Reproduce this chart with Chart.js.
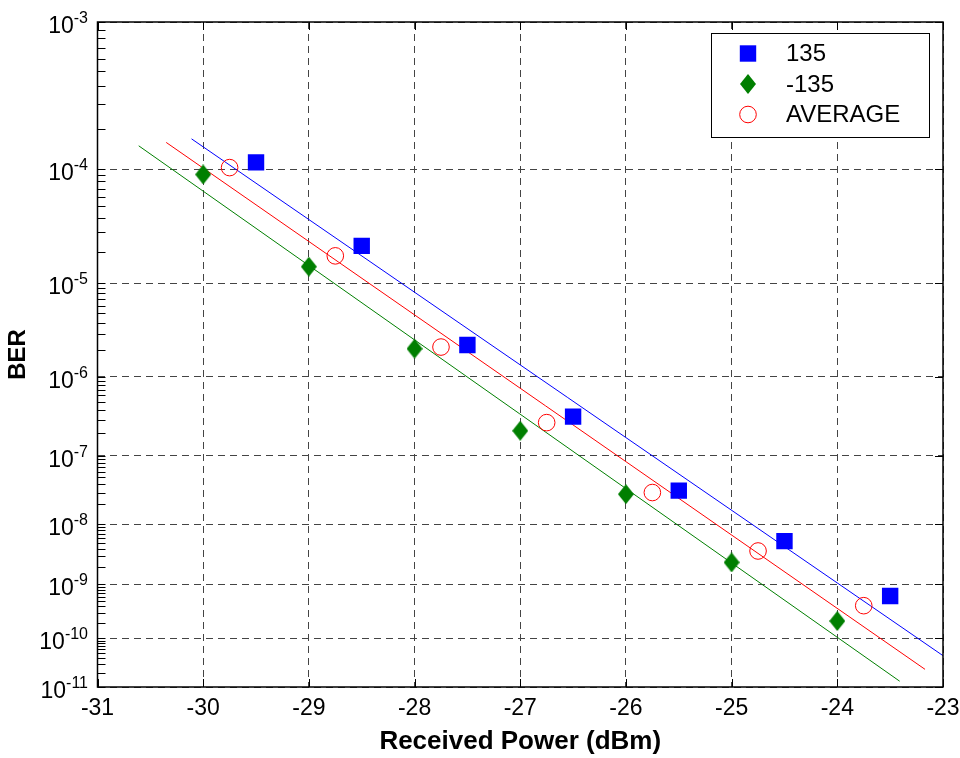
<!DOCTYPE html>
<html>
<head>
<meta charset="utf-8">
<title>BER vs Received Power</title>
<script src="https://cdn.jsdelivr.net/npm/chart.js@4.4.1/dist/chart.umd.min.js"></script>
<style>
  html, body { margin: 0; padding: 0; background: #fff; }
  #wrap { width: 960px; height: 758px; }
</style>
</head>
<body>
<div id="wrap"><canvas id="berChart" width="960" height="758"></canvas></div>
<script>
const power135 = [-29.5, -28.5, -27.5, -26.5, -25.5, -24.5, -23.5];
const ber135 = [1.13e-4, 2.26e-5, 2.3e-6, 3.27e-7, 3.2e-8, 5.35e-9, 6.2e-10];

const powerM135 = [-30, -29, -28, -27, -26, -25, -24];
const berM135 = [9.1e-5, 1.45e-5, 2.09e-6, 2.15e-7, 2.84e-8, 2.38e-9, 2.14e-10];

const powerAvg = [-29.75, -28.75, -27.75, -26.75, -25.75, -24.75, -23.75];
const berAvg = [1.03e-4, 1.83e-5, 2.18e-6, 2.74e-7, 3.0e-8, 3.69e-9, 4.13e-10];

// Fitted lines, start and end points
const fit135X = [-30.11, -23.0];
const fit135Y = [1.70e-4, 4.5e-11];
const fitM135X = [-30.61, -23.41];
const fitM135Y = [1.51e-4, 1.33e-11];
const fitAvgX = [-30.35, -23.17];
const fitAvgY = [1.6e-4, 2.36e-11];

// Axis ticks
const xTicks = [-31, -30, -29, -28, -27, -26, -25, -24, -23];
const yDecades = [3, 4, 5, 6, 7, 8, 9, 10, 11]; // BER = 10^-n

const FONT = "'Liberation Sans', Arial, sans-serif";

const pts = (xs, ys) => xs.map((x, i) => ({ x: x, y: ys[i] }));

// BER paper scale: linear in log10(-log10(BER))
const berT = v => -Math.log10(-Math.log10(v));

class BerScale extends Chart.LinearScale {
  determineDataLimits() {
    this.min = this.options.min;
    this.max = this.options.max;
  }
  buildTicks() {
    return [];
  }
  getPixelForValue(v) {
    if (v === null || v === undefined || isNaN(v)) return NaN;
    const a = berT(this.min), b = berT(this.max);
    return this.getPixelForDecimal((berT(v) - a) / (b - a));
  }
  getValueForPixel(p) {
    const a = berT(this.min), b = berT(this.max);
    const t = a + this.getDecimalForPixel(p) * (b - a);
    return Math.pow(10, -Math.pow(10, -t));
  }
}
BerScale.id = 'ber';
BerScale.defaults = { ticks: { callback: v => String(v) } };
Chart.register(BerScale);

// diamond marker, a bit taller than wide
function diamond(w, h, color) {
  const c = document.createElement('canvas');
  c.width = w; c.height = h;
  const g = c.getContext('2d');
  g.fillStyle = color;
  g.beginPath();
  g.moveTo(w / 2, 0); g.lineTo(w, h / 2); g.lineTo(w / 2, h); g.lineTo(0, h / 2);
  g.closePath();
  g.fill();
  return c;
}

// frame, inward ticks, y labels with exponents and the legend box
const decorPlugin = {
  id: 'decor',
  afterDraw(chart) {
    const { ctx, chartArea: a, scales: { x, y } } = chart;
    ctx.save();

    ctx.strokeStyle = '#000';
    ctx.lineWidth = 1;
    ctx.beginPath();
    x.ticks.forEach(t => {
      const px = Math.round(x.getPixelForValue(t.value)) + 0.5;
      ctx.moveTo(px, a.bottom); ctx.lineTo(px, a.bottom - 8);
      ctx.moveTo(px, a.top); ctx.lineTo(px, a.top + 8);
    });
    y.ticks.forEach(t => {
      const py = Math.round(y.getPixelForValue(t.value)) + 0.5;
      ctx.moveTo(a.left, py); ctx.lineTo(a.left + 8, py);
      ctx.moveTo(a.right, py); ctx.lineTo(a.right - 8, py);
      for (let k = 2; k <= 9; k++) {
        const v = k * t.value;
        if (v >= y.max) break;
        const pm = Math.round(y.getPixelForValue(v)) + 0.5;
        ctx.moveTo(a.left, pm); ctx.lineTo(a.left + 8, pm);
      }
    });
    ctx.stroke();

    ctx.lineWidth = 1.5;
    ctx.strokeRect(a.left, a.top, a.right - a.left, a.bottom - a.top);

    // y tick labels: 10 with superscript exponent
    ctx.fillStyle = '#000';
    ctx.textAlign = 'right';
    ctx.textBaseline = 'alphabetic';
    y.ticks.forEach(t => {
      const n = Math.round(-Math.log10(t.value));
      const py = y.getPixelForValue(t.value);
      ctx.font = '16px ' + FONT;
      const sup = '-' + n;
      const sw = ctx.measureText(sup).width;
      ctx.fillText(sup, 88, py + 1);
      ctx.font = '23px ' + FONT;
      ctx.fillText('10', 88 - sw, py + 11);
    });

    // legend
    const bx = 711.5, by = 33.5, bw = 218, bh = 104;
    ctx.fillStyle = '#fff';
    ctx.fillRect(bx, by, bw, bh);
    ctx.lineWidth = 1;
    ctx.strokeStyle = '#000';
    ctx.strokeRect(bx, by, bw, bh);
    ctx.textAlign = 'left';
    ctx.textBaseline = 'middle';
    ctx.font = '24px ' + FONT;
    for (let i = 0; i < 3; i++) {
      const ds = chart.data.datasets[i];
      const ry = 53.5 + i * 30.5;
      ctx.fillStyle = ds.backgroundColor;
      ctx.strokeStyle = ds.borderColor;
      ctx.lineWidth = ds.borderWidth;
      Chart.helpers.drawPoint(ctx, {
        pointStyle: ds.pointStyle, rotation: 0,
        radius: ds.pointRadius, borderWidth: ds.borderWidth
      }, 748, ry);
      ctx.fillStyle = '#000';
      ctx.fillText(ds.label, 786, ry + 1);
    }
    ctx.restore();
  }
};

const ctx = document.getElementById('berChart').getContext('2d');
new Chart(ctx, {
  type: 'scatter',
  data: {
    datasets: [
      {
        label: '135',
        data: pts(power135, ber135),
        pointStyle: 'rect',
        pointRadius: 11.6,
        backgroundColor: '#0000ff',
        borderColor: '#0000ff',
        borderWidth: 0
      },
      {
        label: '-135',
        data: pts(powerM135, berM135),
        pointStyle: diamond(16, 20, '#007f00'),
        pointRadius: 10,
        backgroundColor: '#007f00',
        borderColor: '#007f00',
        borderWidth: 0
      },
      {
        label: 'AVERAGE',
        data: pts(powerAvg, berAvg),
        pointStyle: 'circle',
        pointRadius: 8.3,
        backgroundColor: 'rgba(0,0,0,0)',
        borderColor: '#ff0000',
        borderWidth: 1
      },
      {
        label: 'fit 135',
        data: pts(fit135X, fit135Y),
        showLine: true,
        pointRadius: 0,
        borderColor: '#0000ff',
        borderWidth: 1
      },
      {
        label: 'fit -135',
        data: pts(fitM135X, fitM135Y),
        showLine: true,
        pointRadius: 0,
        borderColor: '#007f00',
        borderWidth: 1
      },
      {
        label: 'fit average',
        data: pts(fitAvgX, fitAvgY),
        showLine: true,
        pointRadius: 0,
        borderColor: '#ff0000',
        borderWidth: 1
      }
    ]
  },
  options: {
    responsive: false,
    animation: false,
    layout: { padding: { top: 22, right: 17, left: 0, bottom: 0 } },
    plugins: {
      legend: { display: false },
      tooltip: { enabled: false }
    },
    scales: {
      x: {
        type: 'linear',
        min: -31,
        max: -23,
        afterBuildTicks: s => { s.ticks = xTicks.map(v => ({ value: v })); },
        afterFit: s => { s.height = 71; s.paddingLeft = 0; s.paddingRight = 0; },
        ticks: {
          color: '#000',
          font: { family: FONT, size: 23 },
          padding: 8,
          maxRotation: 0,
          autoSkip: false,
          callback: v => String(v)
        },
        grid: { color: '#444', lineWidth: 1, drawTicks: false },
        border: { display: false, dash: [7, 5] },
        title: {
          display: true,
          text: 'Received Power (dBm)',
          color: '#000',
          font: { family: FONT, size: 26, weight: 'bold' },
          padding: { top: 0, bottom: 1 }
        }
      },
      y: {
        type: 'ber',
        min: 1e-11,
        max: 1e-3,
        afterBuildTicks: s => { s.ticks = yDecades.map(n => ({ value: Math.pow(10, -n) })); },
        afterFit: s => { s.width = 97.5; s.paddingTop = 0; s.paddingBottom = 0; },
        ticks: { display: false },
        grid: { color: '#444', lineWidth: 1, drawTicks: false },
        border: { display: false, dash: [7, 5] },
        title: {
          display: true,
          text: 'BER',
          color: '#000',
          font: { family: FONT, size: 24, weight: 'bold' },
          padding: { top: 4, bottom: 0 }
        }
      }
    }
  },
  plugins: [decorPlugin]
});
</script>
</body>
</html>
